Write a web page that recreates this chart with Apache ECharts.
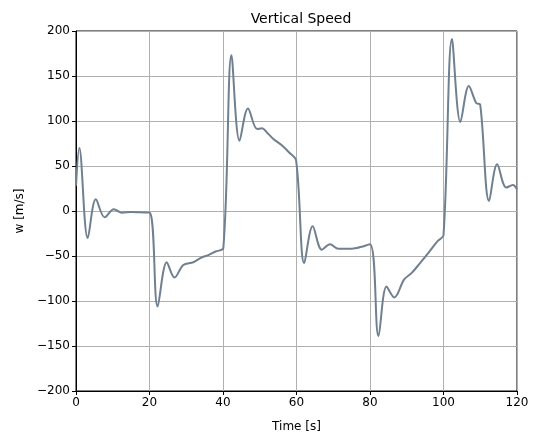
<!DOCTYPE html>
<html>
<head>
<meta charset="utf-8">
<script src="https://cdn.jsdelivr.net/npm/echarts@6/dist/echarts.min.js"></script>
<style>
  html, body { margin: 0; padding: 0; background: #fff; }
  #chart { width: 534px; height: 440px; }
</style>
</head>
<body>
<div id="chart"></div>
<script>
// Time samples [s]
const timeS = [0, 0.9, 3.2, 5.4, 7.8, 10.3, 12.5, 15, 17.5, 20.1,
  22.2, 24.7, 26.8, 29.2, 31.9, 34, 36, 38, 40.1,
  42.3, 44.5, 46.8, 49.3, 50.6, 52, 53.7, 56, 58, 59.9,
  62.1, 64.4, 66.9, 69.1, 71.4, 73.5, 76.4, 80,
  82.3, 84.5, 86.6, 89.3, 91.3, 93.6, 96, 98.5, 100,
  102.3, 104.6, 106.9, 108.9, 110, 112.4, 114.6, 117.1, 118.9, 120];

// Vertical speed w [m/s]
const verticalSpeed = [28, 70, -30, 13, -7, 2, -2, -1, -1.5, -2,
  -106, -57, -74, -60, -57, -52, -49, -45, -41,
  173, 78, 114, 91, 92, 87, 80, 73, 65, 56,
  -58, -17, -43, -37, -42, -42, -41, -37,
  -139, -84, -96, -76, -69, -58, -46, -33, -27,
  191, 99, 139, 120, 118, 11, 52, 26, 29, 24];

const xTicks = [0, 20, 40, 60, 80, 100, 120];
const yTicks = [-200, -150, -100, -50, 0, 50, 100, 150, 200];

const font = 'DejaVu Sans';
const chart = echarts.init(document.getElementById('chart'), null, { renderer: 'canvas' });

chart.setOption({
  animation: false,
  backgroundColor: '#ffffff',
  title: {
    text: 'Vertical Speed',
    left: 296, top: 7, textAlign: 'center',
    textStyle: { fontFamily: font, fontSize: 14, fontWeight: 'normal', color: '#000' }
  },
  grid: {
    left: 76, right: 17, top: 31, bottom: 49,
    show: true, borderColor: '#000', borderWidth: 1, backgroundColor: 'transparent'
  },
  xAxis: {
    type: 'value',
    min: xTicks[0], max: xTicks[xTicks.length - 1], interval: 20,
    name: 'Time [s]', nameLocation: 'middle', nameGap: 30,
    nameTextStyle: { fontFamily: font, fontSize: 12, color: '#000' },
    axisLine: { show: true, onZero: false, lineStyle: { color: '#000', width: 1 } },
    axisTick: { show: true, inside: false, length: 4, lineStyle: { color: '#000' } },
    axisLabel: { fontFamily: font, fontSize: 12, color: '#000', margin: 6 },
    splitLine: { show: true, lineStyle: { color: '#b0b0b0', width: 1 } }
  },
  yAxis: {
    type: 'value',
    min: yTicks[0], max: yTicks[yTicks.length - 1], interval: 50,
    name: 'w [m/s]', nameLocation: 'middle', nameGap: 48, nameRotate: 90,
    nameTextStyle: { fontFamily: font, fontSize: 12, color: '#000' },
    axisLine: { show: true, onZero: false, lineStyle: { color: '#000', width: 1 } },
    axisTick: { show: true, inside: false, length: 4, lineStyle: { color: '#000' } },
    axisLabel: {
      fontFamily: font, fontSize: 12, color: '#000', margin: 6,
      formatter: v => (v < 0 ? '\u2212' + Math.abs(v) : String(v))
    },
    splitLine: { show: true, lineStyle: { color: '#b0b0b0', width: 1 } }
  },
  series: [{
    type: 'line',
    data: timeS.map((t, i) => [t, verticalSpeed[i]]),
    smooth: 0.35,
    showSymbol: false,
    clip: true,
    lineStyle: { color: '#708090', width: 2 }
  }]
});
</script>
</body>
</html>
